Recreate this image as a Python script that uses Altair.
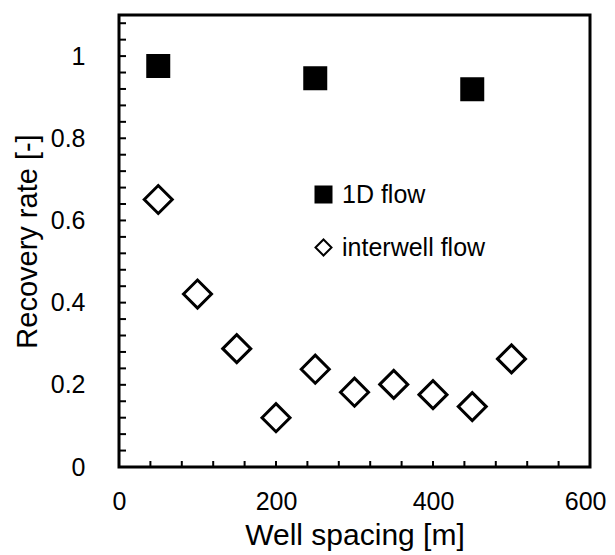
import altair as alt
import pandas as pd

# 1D flow
x_1d = [50, 250, 450]
y_1d = [0.976, 0.946, 0.919]
# interwell flow
x_iw = [50, 100, 150, 200, 250, 300, 350, 400, 450, 500]
y_iw = [0.651, 0.421, 0.288, 0.120, 0.238, 0.182, 0.201, 0.176, 0.147, 0.263]

series_names = ["1D flow", "interwell flow"]
x_tick_labels = [0, 200, 400, 600]
y_tick_labels = [0, 0.2, 0.4, 0.6, 0.8, 1]
x_minor = [40, 80, 120, 160, 200, 240, 280, 320, 360, 400, 440, 480, 520, 560]
y_minor = [0.04, 0.08, 0.12, 0.16, 0.2, 0.24, 0.28, 0.32, 0.36, 0.4, 0.44, 0.48,
           0.52, 0.56, 0.6, 0.64, 0.68, 0.72, 0.76, 0.8, 0.84, 0.88, 0.92, 0.96,
           1.0, 1.04, 1.08]

W, H = 471, 452
FONT = "Liberation Sans"

df1 = pd.DataFrame({"x": x_1d, "y": y_1d, "series": series_names[0]})
df2 = pd.DataFrame({"x": x_iw, "y": y_iw, "series": series_names[1]})

xscale = alt.Scale(domain=[0, 600], nice=False, zero=False)
yscale = alt.Scale(domain=[0, 1.1], nice=False, zero=False)

xaxis = alt.Axis(values=x_tick_labels, ticks=False, tickSize=0, domain=False, grid=False,
                 labelFlush=False, labelFontSize=25, labelPadding=22, title="Well spacing [m]",
                 labelAlign=alt.condition("datum.value == 600", alt.value("right"), alt.value("center")),
                 labelOffset=alt.condition("datum.value == 600", alt.value(16), alt.value(0)),
                 titleFontSize=30, titleFontWeight="normal", titlePadding=6,
                 labelFont=FONT, titleFont=FONT, labelColor="black", titleColor="black")
yaxis = alt.Axis(values=y_tick_labels, ticks=False, tickSize=0, domain=False, grid=False,
                 labelFlush=False, labelFontSize=25, labelPadding=34, title="Recovery rate [-]",
                 titleFontSize=29, titleFontWeight="normal", titlePadding=8,
                 labelFont=FONT, titleFont=FONT, labelColor="black", titleColor="black",
                 labelExpr="datum.value == 0 ? '0' : datum.value == 1 ? '1' : format(datum.value, '.1f')")

legend = alt.Legend(title=None, orient="none", legendX=192, legendY=167,
                    symbolSize=256, symbolStrokeWidth=2, symbolStrokeColor="black",
                    labelFontSize=25, labelFont=FONT, labelColor="black",
                    rowPadding=27, labelOffset=6, padding=0)

shape_enc = alt.Shape("series:N", scale=alt.Scale(domain=series_names, range=["square", "diamond"]),
                      legend=legend)
fill_enc = alt.Fill("series:N", scale=alt.Scale(domain=series_names, range=["black", "white"]),
                    legend=legend)
stroke_enc = alt.Stroke("series:N", scale=alt.Scale(domain=series_names, range=["black", "black"]),
                        legend=legend)


def layer(d, size):
    return alt.Chart(d).mark_point(filled=False, strokeWidth=3, opacity=1,
                                   fillOpacity=1, size=size).encode(
        x=alt.X("x:Q", scale=xscale, axis=xaxis),
        y=alt.Y("y:Q", scale=yscale, axis=yaxis),
        shape=shape_enc,
        fill=fill_enc,
        stroke=stroke_enc,
    )


xt = pd.DataFrame({"v": x_minor})
yt = pd.DataFrame({"v": y_minor})

xticks = alt.Chart(xt).mark_rule(color="black", strokeWidth=2).encode(
    x=alt.X("v:Q"), y=alt.value(H), y2=alt.value(H - 6))
yticks = alt.Chart(yt).mark_rule(color="black", strokeWidth=2).encode(
    y=alt.Y("v:Q"), x=alt.value(0), x2=alt.value(7))

chart = alt.layer(xticks, yticks, layer(df1, 441), layer(df2, 784)).properties(
    width=W, height=H,
    background="white",
    autosize=alt.AutoSizeParams(type="none"),
    padding={"left": 111, "top": 7, "right": 17, "bottom": 86},
).configure_view(stroke="black", strokeWidth=3)

chart.save("out.html", embed_options={"renderer": "svg", "actions": False})
